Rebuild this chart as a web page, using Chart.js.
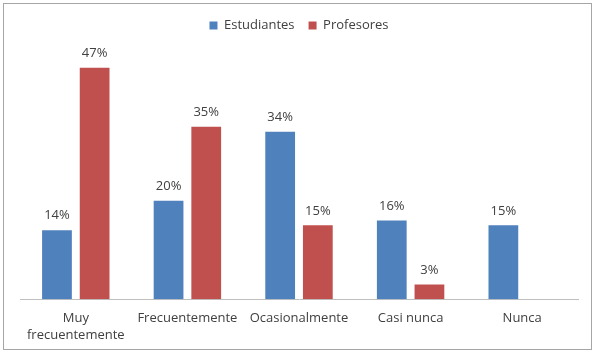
<!DOCTYPE html>
<html>
<head>
<meta charset="utf-8">
<script src="https://cdn.jsdelivr.net/npm/chart.js@4.4.1/dist/chart.umd.min.js"></script>
<style>
  body { margin: 0; background: #fff; }
  #caja {
    position: absolute; left: 3px; top: 3px;
    width: 587px; height: 345px;
    border: 1px solid #a6a6a6;
  }
</style>
</head>
<body>
<div id="caja"><canvas id="grafico"></canvas></div>
<script>
var CATEGORIAS = [["Muy", "frecuentemente"], "Frecuentemente", "Ocasionalmente", "Casi nunca", "Nunca"];
var ESTUDIANTES = [14, 20, 34, 16, 15];
var PROFESORES = [47, 35, 15, 3, null];

// etiquetas de porcentaje encima de cada barra
var etiquetas = {
    id: "etiquetas",
    afterDatasetsDraw: function (chart) {
        var ctx = chart.ctx;
        ctx.save();
        ctx.font = "13px 'Open Sans', sans-serif";
        ctx.fillStyle = "#404040";
        ctx.textAlign = "center";
        ctx.textBaseline = "bottom";
        chart.data.datasets.forEach(function (ds, i) {
            chart.getDatasetMeta(i).data.forEach(function (barra, j) {
                if (ds.data[j] === null) return;
                ctx.fillText(ds.data[j] + "%", barra.x, barra.y - 8);
            });
        });
        ctx.restore();
    }
};

// un poco mas de espacio debajo de la leyenda
var espacioLeyenda = {
    id: "espacioLeyenda",
    beforeInit: function (chart) {
        var fitOriginal = chart.legend.fit;
        chart.legend.fit = function () {
            fitOriginal.bind(chart.legend)();
            this.height += 11;
        };
    }
};

var ctx1 = document.getElementById("grafico").getContext("2d");
var miGrafico = new Chart(ctx1, {
    type: "bar",
    data: {
        labels: CATEGORIAS,
        datasets: [
            {
                label: "Estudiantes",
                data: ESTUDIANTES,
                backgroundColor: "#4f81bd",
            },
            {
                label: "Profesores",
                data: PROFESORES,
                backgroundColor: "#c0504d",
            },
        ]
    },
    options: {
        responsive: true,
        maintainAspectRatio: false,
        animation: false,
        categoryPercentage: 0.675,
        barPercentage: 0.79,
        layout: {
            padding: { left: 16, right: 13, top: 1, bottom: 2 }
        },
        plugins: {
            tooltip: { enabled: false },
            legend: {
                position: "top",
                labels: {
                    color: "#404040",
                    boxWidth: 8,
                    boxHeight: 8,
                    padding: 14,
                    font: { size: 13, family: "'Open Sans', sans-serif" }
                }
            }
        },
        scales: {
            y: {
                display: false,
                min: 0,
                max: 50
            },
            x: {
                grid: { display: false },
                border: { color: "#bfbfbf" },
                ticks: {
                    color: "#404040",
                    maxRotation: 0,
                    autoSkip: false,
                    padding: 3,
                    font: { size: 13, family: "'Open Sans', sans-serif", lineHeight: 1.3 }
                }
            }
        }
    },
    plugins: [etiquetas, espacioLeyenda]
});
</script>
</body>
</html>
